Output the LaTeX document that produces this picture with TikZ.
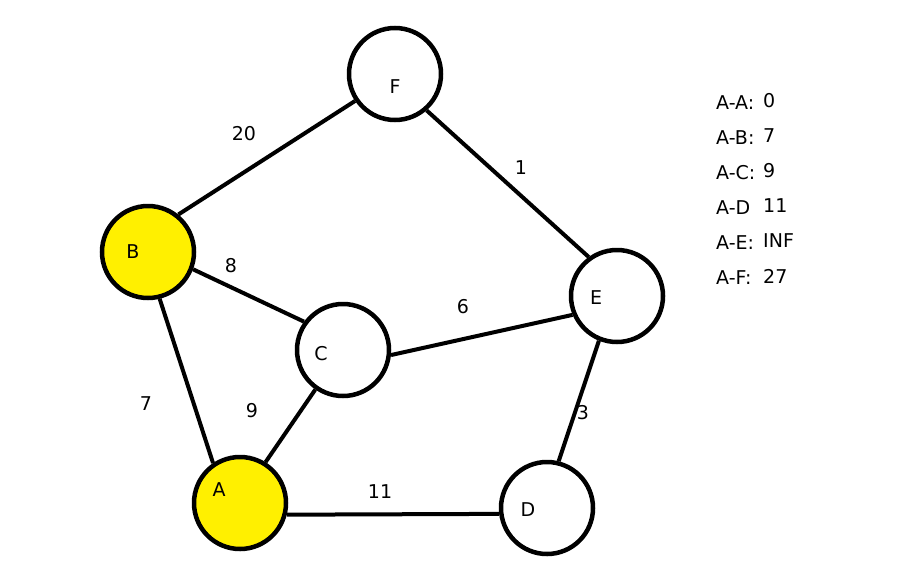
\documentclass[tikz,border=0pt]{standalone}
\usepackage{fontspec}
\setmainfont{DejaVu Sans}
\usepackage{xcolor}
\definecolor{visityellow}{RGB}{255,240,0}
\usetikzlibrary{positioning}

\tikzset{
  vertex/.style={circle, draw=black, line width=4.5pt, minimum size=92pt, inner sep=0pt, fill=white},
  done/.style={fill=visityellow},
  edge/.style={line width=4pt},
  weight/.style={font=\fontsize{19}{21}\selectfont},
  dist/.style={font=\fontsize{19}{21}\selectfont, anchor=west, inner sep=0pt}
}

\begin{document}
\begin{tikzpicture}[x=1pt, y=-1pt]
  \useasboundingbox (0,0) rectangle (920,565);

  % Vertices
  \node[vertex] (F) at (395,74)  [label={[weight, yshift=-13pt]center:F}] {};
  \node[vertex, done] (B) at (148,252) [label={[weight, xshift=-15pt]center:B}] {};
  \node[vertex] (C) at (343,350) [label={[weight, xshift=-22pt, yshift=-4pt]center:C}] {};
  \node[vertex] (E) at (617,296) [label={[weight, xshift=-21pt, yshift=-2pt]center:E}] {};
  \node[vertex, done] (A) at (240,503) [label={[weight, xshift=-21pt, yshift=13pt]center:A}] {};
  \node[vertex] (D) at (547,508) [label={[weight, xshift=-19pt, yshift=-2pt]center:D}] {};

  % Edges
  \draw[edge] (B.51)  -- (F.214);
  \draw[edge] (B.339) -- (C.144);
  \draw[edge] (B.284) -- (A.124);
  \draw[edge] (C.235) -- (A.58);
  \draw[edge] (C.354) -- (E.203);
  \draw[edge] (F.311) -- (E.126);
  \draw[edge] (E.248) -- (D.76);
  \draw[edge] (A.346) -- (D.187);

  % Weights
  \node[weight] (wBF) at (244,134) {20};
  \node[weight] (wBC) at (231,266) {8};
  \node[weight] (wBA) at (146,404) {7};
  \node[weight] (wCA) at (252,411) {9};
  \node[weight] (wCE) at (463,307) {6};
  \node[weight] (wFE) at (521,168) {1};
  \node[weight] (wED) at (583,413) {3};
  \node[weight] (wAD) at (380,492) {11};

  % Distances from A
  \foreach \pair/\val [count=\i] in {A-A:/0, A-B:/7, A-C:/9, A-D/11, A-E:/INF, A-F:/27} {
    \node[dist] (key\i) at (716,{103+35*(\i-1)}) {\pair};
    \node[dist] (val\i) at (763,{101+35*(\i-1)}) {\val};
  }
\end{tikzpicture}
\end{document}
